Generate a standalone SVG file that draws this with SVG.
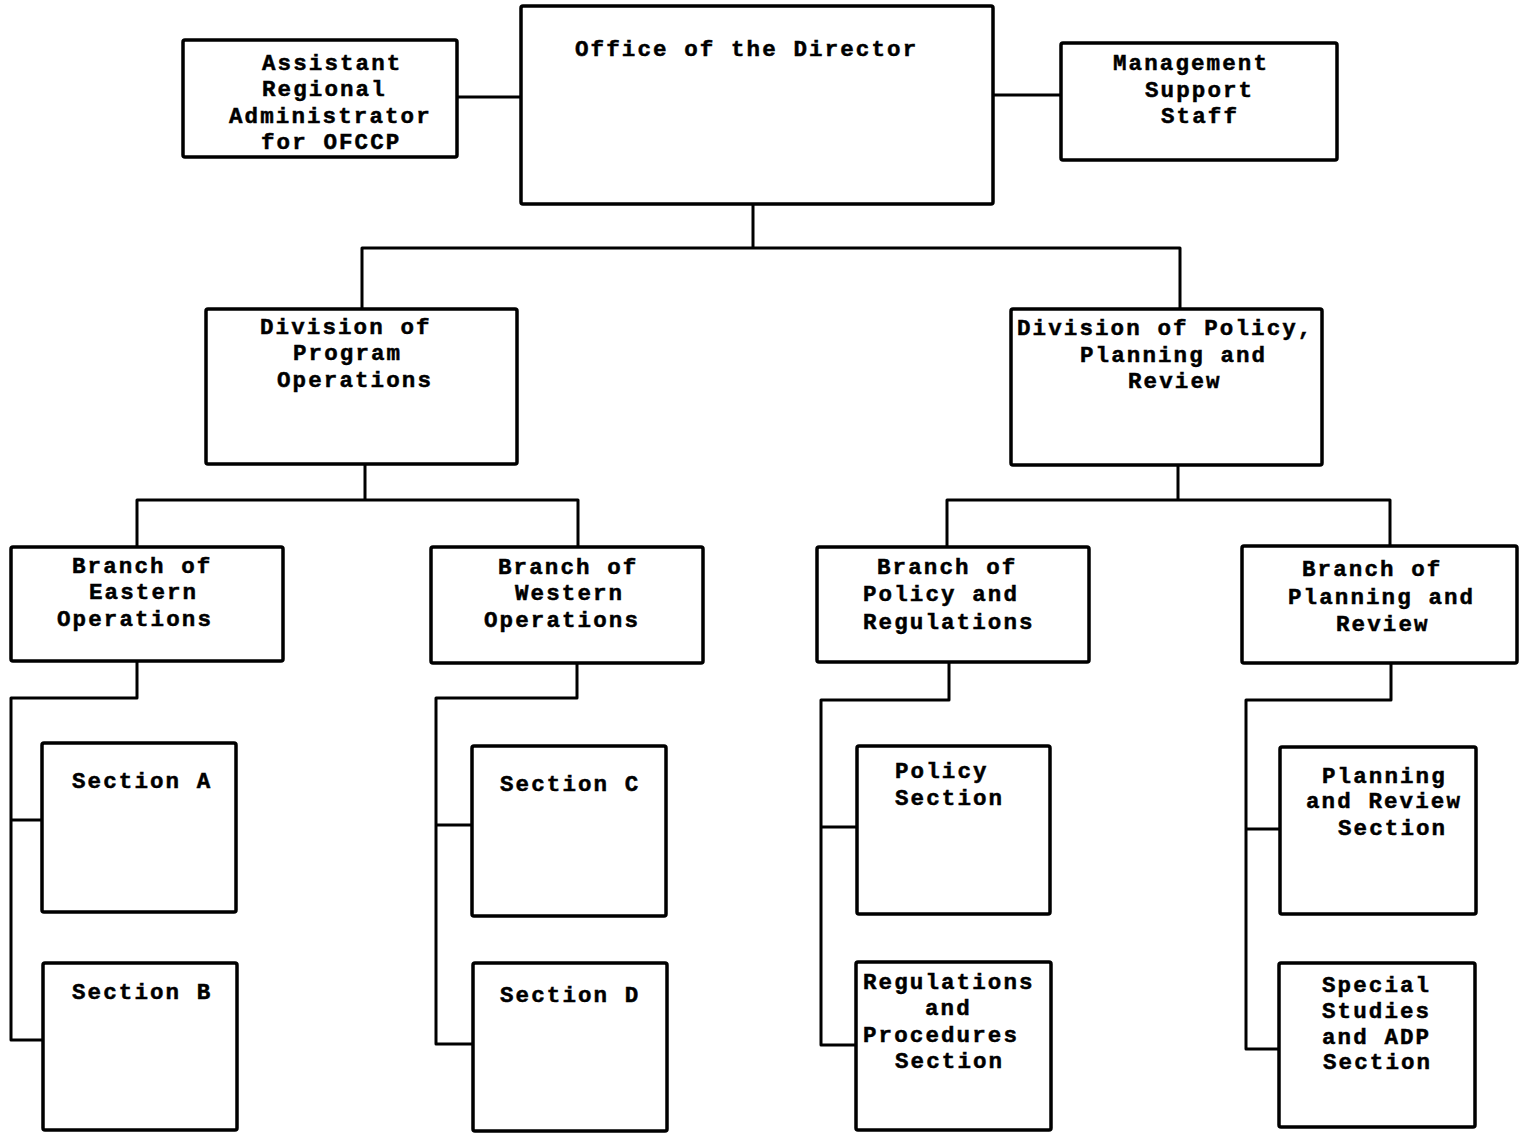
<svg xmlns="http://www.w3.org/2000/svg" width="1519" height="1133" viewBox="0 0 1519 1133">
  <style>
    .box { fill: #fff; stroke: #000; stroke-width: 3.5; stroke-linejoin: round; }
    .wire { fill: none; stroke: #000; stroke-width: 3; stroke-linejoin: round; }
    .lbl { font-family: "Liberation Mono", "DejaVu Sans Mono", monospace; font-weight: bold; font-size: 22.5px; letter-spacing: 2.1px; fill: #000; stroke: #000; stroke-width: 0.5; }
  </style>
  <rect width="1519" height="1133" fill="#fff"/>

  <!-- connectors -->
  <g id="connectors">
    <path class="wire" d="M457 97 H521"/>
    <path class="wire" d="M993 95 H1061"/>
    <path class="wire" d="M753 204 V248 M362 309 V248 H1180 V309"/>
    <path class="wire" d="M365 464 V500 M137 547 V500 H578 V547"/>
    <path class="wire" d="M1178 465 V500 M947 547 V500 H1390 V546"/>
    <path class="wire" d="M137 661 V698 H11 V1040 H43 M11 820 H42"/>
    <path class="wire" d="M577 663 V698 H436 V1044 H473 M436 825 H472"/>
    <path class="wire" d="M949 662 V700 H821 V1045 H856 M821 827 H857"/>
    <path class="wire" d="M1391 663 V700 H1246 V1049 H1279 M1246 829 H1280"/>
  </g>

  <g id="assistant-regional-administrator">
    <rect class="box" x="183" y="40" width="274" height="117" rx="2"/>
    <text class="lbl" x="262" y="70">Assistant</text>
    <text class="lbl" x="262" y="96">Regional</text>
    <text class="lbl" x="229" y="123">Administrator</text>
    <text class="lbl" x="261" y="149">for OFCCP</text>
  </g>

  <g id="office-of-the-director">
    <rect class="box" x="521" y="6" width="472" height="198" rx="2"/>
    <text class="lbl" x="575" y="56">Office of the Director</text>
  </g>

  <g id="management-support-staff">
    <rect class="box" x="1061" y="43" width="276" height="117" rx="2"/>
    <text class="lbl" x="1113" y="70">Management</text>
    <text class="lbl" x="1145" y="97">Support</text>
    <text class="lbl" x="1161" y="123">Staff</text>
  </g>

  <g id="division-program-operations">
    <rect class="box" x="206" y="309" width="311" height="155" rx="2"/>
    <text class="lbl" x="260" y="334">Division of</text>
    <text class="lbl" x="293" y="360">Program</text>
    <text class="lbl" x="277" y="387">Operations</text>
  </g>

  <g id="division-policy-planning-review">
    <rect class="box" x="1011" y="309" width="311" height="156" rx="2"/>
    <text class="lbl" x="1017" y="335">Division of Policy,</text>
    <text class="lbl" x="1080" y="362">Planning and</text>
    <text class="lbl" x="1128" y="388">Review</text>
  </g>

  <g id="branch-eastern-operations">
    <rect class="box" x="11" y="547" width="272" height="114" rx="2"/>
    <text class="lbl" x="72" y="573">Branch of</text>
    <text class="lbl" x="89" y="599">Eastern</text>
    <text class="lbl" x="57" y="626">Operations</text>
  </g>

  <g id="branch-western-operations">
    <rect class="box" x="431" y="547" width="272" height="116" rx="2"/>
    <text class="lbl" x="498" y="574">Branch of</text>
    <text class="lbl" x="515" y="600">Western</text>
    <text class="lbl" x="484" y="627">Operations</text>
  </g>

  <g id="branch-policy-regulations">
    <rect class="box" x="817" y="547" width="272" height="115" rx="2"/>
    <text class="lbl" x="877" y="574">Branch of</text>
    <text class="lbl" x="863" y="601">Policy and</text>
    <text class="lbl" x="863" y="629">Regulations</text>
  </g>

  <g id="branch-planning-review">
    <rect class="box" x="1242" y="546" width="275" height="117" rx="2"/>
    <text class="lbl" x="1302" y="576">Branch of</text>
    <text class="lbl" x="1288" y="604">Planning and</text>
    <text class="lbl" x="1336" y="631">Review</text>
  </g>

  <g id="section-a">
    <rect class="box" x="42" y="743" width="194" height="169" rx="2"/>
    <text class="lbl" x="72" y="788">Section A</text>
  </g>

  <g id="section-b">
    <rect class="box" x="43" y="963" width="194" height="167" rx="2"/>
    <text class="lbl" x="72" y="999">Section B</text>
  </g>

  <g id="section-c">
    <rect class="box" x="472" y="746" width="194" height="170" rx="2"/>
    <text class="lbl" x="500" y="791">Section C</text>
  </g>

  <g id="section-d">
    <rect class="box" x="473" y="963" width="194" height="168" rx="2"/>
    <text class="lbl" x="500" y="1002">Section D</text>
  </g>

  <g id="policy-section">
    <rect class="box" x="857" y="746" width="193" height="168" rx="2"/>
    <text class="lbl" x="895" y="778">Policy</text>
    <text class="lbl" x="895" y="805">Section</text>
  </g>

  <g id="regulations-procedures-section">
    <rect class="box" x="856" y="962" width="195" height="168" rx="2"/>
    <text class="lbl" x="863" y="989">Regulations</text>
    <text class="lbl" x="925" y="1015">and</text>
    <text class="lbl" x="863" y="1042">Procedures</text>
    <text class="lbl" x="895" y="1068">Section</text>
  </g>

  <g id="planning-review-section">
    <rect class="box" x="1280" y="747" width="196" height="167" rx="2"/>
    <text class="lbl" x="1322" y="783">Planning</text>
    <text class="lbl" x="1306" y="808">and Review</text>
    <text class="lbl" x="1338" y="835">Section</text>
  </g>

  <g id="special-studies-adp-section">
    <rect class="box" x="1279" y="963" width="196" height="164" rx="2"/>
    <text class="lbl" x="1322" y="992">Special</text>
    <text class="lbl" x="1322" y="1018">Studies</text>
    <text class="lbl" x="1322" y="1044">and ADP</text>
    <text class="lbl" x="1323" y="1069">Section</text>
  </g>
</svg>
